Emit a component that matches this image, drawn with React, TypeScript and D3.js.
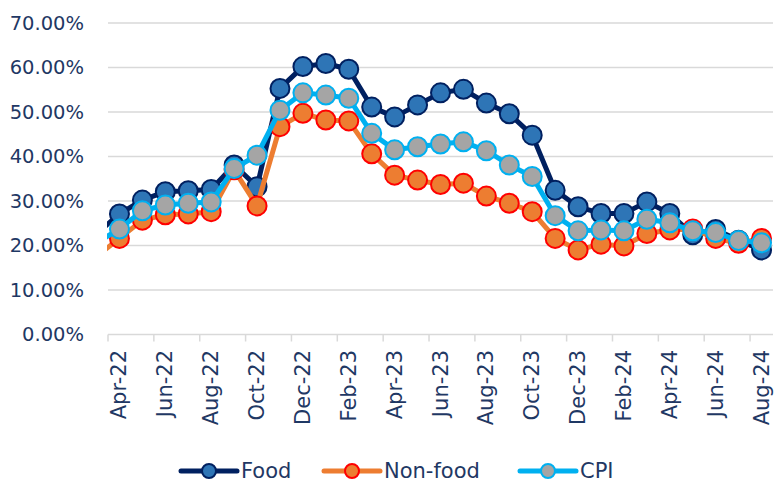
import React from "react";
import * as d3 from "d3";

const months = [
  "Mar-22", "Apr-22", "May-22", "Jun-22", "Jul-22", "Aug-22", "Sep-22", "Oct-22", "Nov-22", "Dec-22",
  "Jan-23", "Feb-23", "Mar-23", "Apr-23", "May-23", "Jun-23", "Jul-23", "Aug-23", "Sep-23", "Oct-23", "Nov-23", "Dec-23",
  "Jan-24", "Feb-24", "Mar-24", "Apr-24", "May-24", "Jun-24", "Jul-24", "Aug-24",
];
const food = [22.6, 27.1, 30.2, 32.1, 32.3, 32.6, 38.1, 33.2, 55.3, 60.2, 60.9, 59.6, 51.1, 48.9, 51.6, 54.3, 55.1, 52.0, 49.6, 44.8, 32.4, 28.7, 27.2, 27.2, 29.8, 27.2, 22.4, 23.6, 21.2, 19.0];
const nonFood = [17.6, 21.6, 25.7, 26.9, 27.1, 27.6, 37.0, 28.9, 46.7, 49.7, 48.2, 48.0, 40.6, 35.8, 34.7, 33.7, 34.0, 31.1, 29.5, 27.6, 21.6, 19.0, 20.3, 19.9, 22.7, 23.5, 23.7, 21.6, 20.5, 21.6];
const cpi = [20.6, 23.7, 27.8, 29.1, 29.5, 29.8, 37.3, 40.3, 50.4, 54.3, 53.8, 53.1, 45.2, 41.5, 42.2, 42.8, 43.3, 41.3, 38.1, 35.5, 26.7, 23.3, 23.5, 23.3, 25.9, 25.1, 23.3, 22.9, 21.1, 20.6];
const yTicks = [0, 10, 20, 30, 40, 50, 60, 70];
const seriesNames = ["Food", "Non-food", "CPI"];

const W = 774, H = 483;
const left = 108, right = 773, top = 23, bottom = 334.5;
const FONT = "'DejaVu Sans', sans-serif";
const TEXT = "#1F3864";
const GRID = "#D9D9D9";

const styles = [
  { line: "#002060", fill: "#2E75B6", stroke: "#002060" },
  { line: "#ED7D31", fill: "#ED7D31", stroke: "#FF0000" },
  { line: "#00B0F0", fill: "#A5A5A5", stroke: "#00B0F0" },
];

export default function App() {
  const x = d3.scaleLinear().domain([0.5, months.length - 0.5]).range([left, right]);
  const y = d3.scaleLinear().domain([0, 70]).range([bottom, top]);
  const line = d3.line<number>().x((_, i) => x(i)).y((d) => y(d));
  const data = [food, nonFood, cpi];
  const tickIdx = d3.range(0.5, months.length - 0.5, 2);
  const labelIdx = d3.range(1, months.length, 2);
  const legendX = [181, 324, 520];
  const ly = 471;

  return (
    <svg width={W} height={H} style={{ position: "absolute", left: 0, top: 0, background: "#fff" }}>
      <defs>
        <clipPath id="plot">
          <rect x={left - 1} y={0} width={right - left + 1} height={H} />
        </clipPath>
      </defs>
      {yTicks.map((t) => (
        <g key={t}>
          <line x1={left} x2={right} y1={y(t)} y2={y(t)} stroke={GRID} strokeWidth={1.5} />
          <text x={84} y={y(t)} textAnchor="end" dominantBaseline="central" fontFamily={FONT} fontSize={19.5} fill={TEXT}>
            {t.toFixed(2)}%
          </text>
        </g>
      ))}
      {tickIdx.map((t) => (
        <line key={t} x1={x(t)} x2={x(t)} y1={y(0)} y2={y(0) + 7} stroke={GRID} strokeWidth={1.5} />
      ))}
      {labelIdx.map((i) => (
        <text
          key={i}
          transform={`translate(${x(i)},350) rotate(-90)`}
          textAnchor="end"
          dominantBaseline="central"
          fontFamily={FONT}
          fontSize={21}
          fill={TEXT}
        >
          {months[i]}
        </text>
      ))}
      <g clipPath="url(#plot)">
        {data.map((s, k) => (
          <g key={k}>
            <path d={line(s) || ""} fill="none" stroke={styles[k].line} strokeWidth={5} strokeLinejoin="round" />
            {s.map((v, i) =>
              i === 0 ? null : (
                <circle key={i} cx={x(i)} cy={y(v)} r={9.5} fill={styles[k].fill} stroke={styles[k].stroke} strokeWidth={2} />
              )
            )}
          </g>
        ))}
      </g>
      {seriesNames.map((n, k) => (
        <g key={n}>
          <line x1={legendX[k]} x2={legendX[k] + 56} y1={ly} y2={ly} stroke={styles[k].line} strokeWidth={5} strokeLinecap="round" />
          <circle cx={legendX[k] + 28} cy={ly} r={7} fill={styles[k].fill} stroke={styles[k].stroke} strokeWidth={2} />
          <text x={legendX[k] + 60} y={ly} dominantBaseline="central" fontFamily={FONT} fontSize={21} fill={TEXT}>
            {n}
          </text>
        </g>
      ))}
    </svg>
  );
}
